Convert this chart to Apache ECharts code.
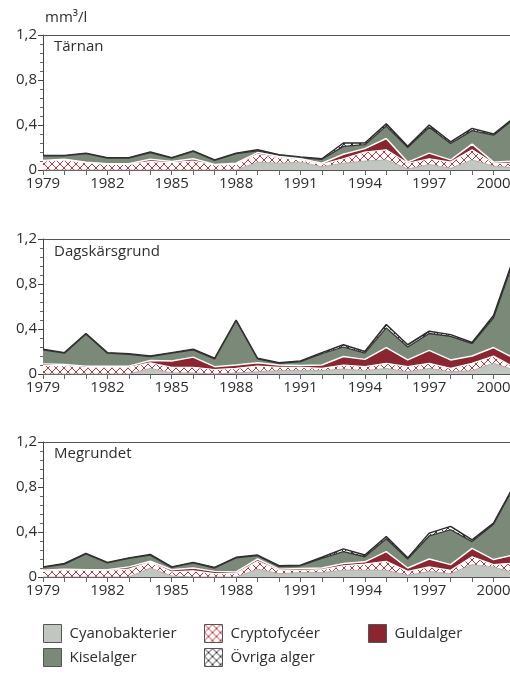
<!DOCTYPE html>
<html>
<head>
<meta charset="utf-8">
<script src="https://cdn.jsdelivr.net/npm/echarts@6/dist/echarts.min.js"></script>
<style>
  html, body { margin: 0; padding: 0; background: #fff; }
  #chart { width: 510px; height: 682px; }
</style>
</head>
<body>
<div id="chart"></div>
<script>
// Years on the x axis
const years = ['1979','1980','1981','1982','1983','1984','1985','1986','1987','1988','1989',
               '1990','1991','1992','1993','1994','1995','1996','1997','1998','1999','2000','2001'];

// Y axis ticks (mm³/l)
const yTicks = [0, 0.4, 0.8, 1.2];

// Station names
const stations = ['Tärnan', 'Dagskärsgrund', 'Megrundet'];

// Algal groups, bottom to top of the stack
const groups = ['Cyanobakterier', 'Cryptofycéer', 'Guldalger', 'Kiselalger', 'Övriga alger'];

// Tärnan, biovolume per group (mm³/l)
const tarnanCyano  = [0,0,0,0,0,0,0,0,0,0,0.07,0.06,0.07,0.03,0.06,0.08,0.09,0.01,0.05,0.015,0.09,0.035,0.02];
const tarnanCrypto = [0.08,0.09,0.065,0.05,0.05,0.075,0.065,0.08,0.045,0.05,0.07,0.05,0.02,0.02,0.04,0.08,0.09,0.05,0.05,0.055,0.09,0.025,0.04];
const tarnanGuld   = [0.005,0.005,0.005,0.005,0.005,0.02,0.01,0.02,0.005,0.01,0.015,0.01,0.01,0.01,0.04,0.03,0.10,0.01,0.05,0.02,0.05,0.01,0.02];
const tarnanKisel  = [0.04,0.03,0.075,0.05,0.05,0.06,0.03,0.065,0.035,0.085,0.015,0.01,0.01,0.035,0.07,0.035,0.11,0.13,0.23,0.145,0.12,0.24,0.38];
const tarnanOvriga = [0.005,0.005,0.005,0.005,0.005,0.005,0.005,0.005,0.005,0.005,0.01,0.005,0.005,0.005,0.03,0.015,0.02,0.01,0.02,0.015,0.02,0.01,0.01];

// Dagskärsgrund
const dagskarCyano  = [0,0,0,0,0,0.05,0.01,0.01,0,0.01,0.02,0.03,0.03,0.03,0.045,0.03,0.05,0.02,0.05,0.02,0.03,0.095,0.035];
const dagskarCrypto = [0.075,0.075,0.06,0.06,0.06,0.05,0.05,0.05,0.04,0.04,0.05,0.03,0.03,0.02,0.035,0.035,0.045,0.045,0.045,0.03,0.065,0.065,0.02];
const dagskarGuld   = [0.015,0.01,0.01,0.01,0.01,0.02,0.055,0.09,0.025,0.03,0.03,0.02,0.015,0.03,0.075,0.065,0.14,0.06,0.115,0.075,0.065,0.075,0.08];
const dagskarKisel  = [0.125,0.10,0.285,0.115,0.105,0.035,0.07,0.065,0.07,0.395,0.035,0.015,0.035,0.10,0.085,0.055,0.175,0.115,0.15,0.21,0.11,0.265,0.91];
const dagskarOvriga = [0.005,0.005,0.005,0.005,0.005,0.005,0.005,0.005,0.005,0.005,0.005,0.005,0.005,0.01,0.02,0.015,0.03,0.02,0.02,0.015,0.01,0.02,0.02];

// Megrundet
const megrCyano  = [0,0,0,0,0,0.08,0.01,0,0,0,0.07,0.03,0.04,0.04,0.06,0.06,0.06,0.015,0.05,0.03,0.11,0.09,0.03];
const megrCrypto = [0.05,0.065,0.06,0.06,0.07,0.05,0.035,0.055,0.03,0.03,0.07,0.03,0.02,0.025,0.04,0.055,0.08,0.035,0.04,0.03,0.07,0.02,0.095];
const megrGuld   = [0.01,0.005,0.005,0.005,0.02,0.01,0.02,0.025,0.02,0.015,0.02,0.01,0.015,0.015,0.02,0.02,0.085,0.03,0.07,0.05,0.075,0.045,0.075];
const megrKisel  = [0.025,0.045,0.14,0.06,0.075,0.055,0.02,0.045,0.03,0.125,0.03,0.025,0.025,0.085,0.105,0.045,0.115,0.08,0.205,0.31,0.06,0.315,0.62];
const megrOvriga = [0.005,0.005,0.005,0.005,0.005,0.005,0.005,0.005,0.005,0.005,0.005,0.005,0.005,0.01,0.025,0.015,0.02,0.01,0.025,0.03,0.015,0.01,0.01];

const stationData = [
  [tarnanCyano, tarnanCrypto, tarnanGuld, tarnanKisel, tarnanOvriga],
  [dagskarCyano, dagskarCrypto, dagskarGuld, dagskarKisel, dagskarOvriga],
  [megrCyano, megrCrypto, megrGuld, megrKisel, megrOvriga]
];

// Cross-hatch fill on white
function hatch(color) {
  const c = document.createElement('canvas');
  c.width = 8; c.height = 8;
  const g = c.getContext('2d');
  g.fillStyle = '#ffffff';
  g.fillRect(0, 0, 8, 8);
  g.strokeStyle = color;
  g.lineWidth = 1;
  g.beginPath();
  g.moveTo(0, 0); g.lineTo(8, 8);
  g.moveTo(8, 0); g.lineTo(0, 8);
  g.stroke();
  return { image: c, repeat: 'repeat' };
}

const FONT = 'Open Sans';
const TEXT = '#2e2e2e';
const fills = ['#c1c7c0', hatch('#c2343e'), '#8b2631', '#7b8a78', hatch('#333333')];
const lines = [
  { color: '#a3aaa1', width: 0.8 },
  { color: '#ffffff', width: 1.2 },
  { color: '#ffffff', width: 1.5 },
  { color: '#333333', width: 1.3 },
  { color: '#2a2a2a', width: 1.5 }
];

const gridTops = [35, 239, 442];
const gridH = 135;

// The last year runs a little past the right edge of the page
const grids = gridTops.map(t => ({
  left: 43, width: 472, top: t, height: gridH,
  containLabel: false, outerBoundsMode: 'none'
}));

const xAxes = [];
const yAxes = [];
gridTops.forEach((t, i) => {
  xAxes.push({
    type: 'category', gridIndex: i, data: years, boundaryGap: false,
    axisLine: { lineStyle: { color: '#555', width: 1 } },
    axisTick: { show: true, interval: 0, length: 5, lineStyle: { color: '#666' } },
    axisLabel: { interval: 2, fontSize: 15, color: TEXT, margin: 6, fontFamily: FONT },
    splitLine: { show: false }
  });
  // frame line along the top of each panel
  xAxes.push({
    type: 'category', gridIndex: i, data: years, boundaryGap: false, position: 'top',
    axisLine: { lineStyle: { color: '#555', width: 1 } },
    axisTick: { show: false }, axisLabel: { show: false }, splitLine: { show: false }
  });
  yAxes.push({
    type: 'value', gridIndex: i, min: yTicks[0], max: yTicks[yTicks.length - 1], interval: 0.4,
    axisLine: { show: true, lineStyle: { color: '#444', width: 1 } },
    axisTick: { show: true, length: 5, lineStyle: { color: '#444' } },
    minorTick: { show: true, splitNumber: 5, length: 3, lineStyle: { color: '#666' } },
    splitLine: { show: false },
    axisLabel: {
      fontSize: 15, color: TEXT, margin: 6, fontFamily: FONT,
      formatter: v => (v === 0 ? '0' : v.toFixed(1).replace('.', ','))
    }
  });
});

const series = [];
stationData.forEach((arrs, i) => {
  arrs.forEach((vals, k) => {
    series.push({
      name: groups[k], type: 'line', stack: 'st' + i,
      xAxisIndex: i * 2, yAxisIndex: i,
      data: vals, symbol: 'none', silent: true,
      z: 10 - k,
      lineStyle: lines[k],
      areaStyle: { color: fills[k], opacity: 1 }
    });
  });
});

const titles = [
  { text: 'mm³/l', left: 45, top: 10 },
  { text: stations[0], left: 54, top: 39 },
  { text: stations[1], left: 54, top: 244 },
  { text: stations[2], left: 54, top: 446 }
].map(t => Object.assign(t, {
  padding: 0,
  textStyle: { fontSize: 15, fontWeight: 'normal', color: TEXT, fontFamily: FONT }
}));

const legendPos = [[43, 624], [204, 624], [368, 624], [43, 648], [204, 648]];
const legends = groups.map((g, k) => ({
  data: [{ name: g, icon: 'rect', itemStyle: { color: fills[k], borderColor: '#555', borderWidth: 1 } }],
  left: legendPos[k][0], top: legendPos[k][1], padding: 0,
  itemWidth: 18, itemHeight: 18, selectedMode: false,
  textStyle: { fontSize: 15, color: TEXT, fontFamily: FONT, padding: [0, 0, 0, 3] }
}));

const chart = echarts.init(document.getElementById('chart'), null, { renderer: 'canvas' });
chart.setOption({
  animation: false,
  backgroundColor: '#ffffff',
  textStyle: { fontFamily: FONT },
  title: titles,
  legend: legends,
  grid: grids,
  xAxis: xAxes,
  yAxis: yAxes,
  series: series
});
</script>
</body>
</html>
